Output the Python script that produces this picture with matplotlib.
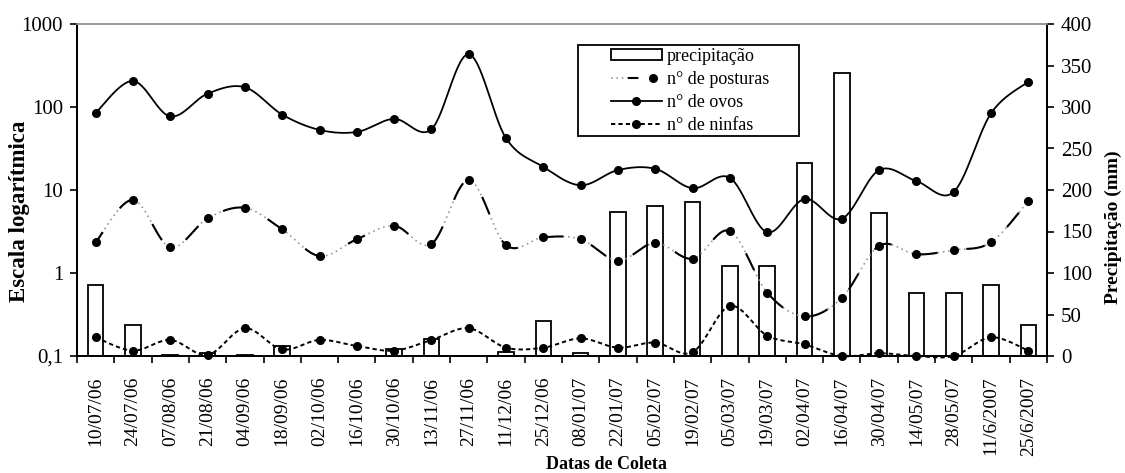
import numpy as np
import matplotlib
matplotlib.use("Agg")
import matplotlib.pyplot as plt
from matplotlib.lines import Line2D
from matplotlib.patches import Patch, Rectangle
from matplotlib.legend_handler import HandlerTuple

plt.rcParams['font.family'] = ['Liberation Serif', 'DejaVu Serif']

datas = ['10/07/06', '24/07/06', '07/08/06', '21/08/06', '04/09/06', '18/09/06',
         '02/10/06', '16/10/06', '30/10/06', '13/11/06', '27/11/06', '11/12/06',
         '25/12/06', '08/01/07', '22/01/07', '05/02/07', '19/02/07', '05/03/07',
         '19/03/07', '02/04/07', '16/04/07', '30/04/07', '14/05/07', '28/05/07',
         '11/6/2007', '25/6/2007']

precipitacao = [85, 37, 1, 4, 1, 12, 0, 0, 8, 20, 0, 4.4, 42.5, 3.2, 173, 181, 186,
                109, 108, 233, 341, 172, 75.5, 75.5, 85, 37]

ovos = [85, 206, 77, 145, 173, 81, 53, 50, 72, 54, 431, 42, 19, 11.4, 17.4, 18, 10.5,
        14, 3.1, 7.8, 4.5, 17.4, 12.8, 9.5, 84, 202]

posturas = [2.34, 7.6, 2.04, 4.56, 6.1, 3.36, 1.60, 2.55, 3.71, 2.24, 13.2, 2.16, 2.69,
            2.55, 1.41, 2.32, 1.49, 3.2, 0.58, 0.30, 0.50, 2.13, 1.68, 1.89, 2.34, 7.4]

ninfas = [0.168, 0.116, 0.156, 0.103, 0.216, 0.120, 0.156, 0.132, 0.116, 0.156, 0.216,
          0.126, 0.126, 0.163, 0.126, 0.145, 0.111, 0.40, 0.176, 0.138, 0.10, 0.108,
          0.10, 0.10, 0.168, 0.116]


def smooth_log(xs, ys, n=30):
    """Catmull-Rom curve through the points, in log10 space (Excel-like smoothing)."""
    xs = np.asarray(xs, float)
    ly = np.log10(np.asarray(ys, float))
    P = np.column_stack([xs, ly])
    out = []
    m = len(P)
    for i in range(m - 1):
        p0 = P[i - 1] if i > 0 else P[i]
        p1 = P[i]
        p2 = P[i + 1]
        p3 = P[i + 2] if i + 2 < m else P[i + 1]
        c1 = p1 + (p2 - p0) / 6.0
        c2 = p2 - (p3 - p1) / 6.0
        t = np.linspace(0, 1, n, endpoint=(i == m - 2))[:, None]
        b = ((1 - t) ** 3) * p1 + 3 * ((1 - t) ** 2) * t * c1 + 3 * (1 - t) * t ** 2 * c2 + t ** 3 * p2
        out.append(b)
    B = np.vstack(out)
    return B[:, 0], 10 ** B[:, 1]


W, H = 1125, 473
fig = plt.figure(figsize=(W / 100, H / 100), dpi=100)
ax = fig.add_axes([77 / W, 1 - 356 / H, 970 / W, 332 / H])
ax2 = ax.twinx()
x = np.arange(len(datas))

# precipitation bars (right scale), drawn under lines
ax.bar(x, precipitacao, width=0.42, color='white', edgecolor='black', linewidth=1.3, zorder=2)
ax.set_ylim(0, 400)
ax.set_xlim(-0.5, len(datas) - 0.5)
ax.set_yticks(np.arange(0, 401, 50))
ax.tick_params(axis='y', direction='out', length=5, width=1.2, labelsize=15, pad=5,
               left=False, right=True, labelleft=False, labelright=True)

# x ticks at category boundaries; labels at centers
ax.set_xticks(np.arange(-0.5, len(datas), 1.0))
ax.set_xticklabels([])
ax.tick_params(axis='x', which='major', direction='out', length=5, width=1.2)
ax.set_xticks(x, minor=True)
ax.set_xticklabels(datas, minor=True, rotation=90, fontsize=14)
ax.tick_params(axis='x', which='minor', length=0, pad=15)

# log scale lines on twin axis (drawn on top)
ax2.set_yscale('log')
ax2.set_ylim(0.1, 1000)
ax2.set_yticks([0.1, 1, 10, 100, 1000])
ax2.set_yticklabels(['0,1', '1', '10', '100', '1000'])
ax2.yaxis.set_minor_locator(matplotlib.ticker.NullLocator())
ax2.tick_params(axis='y', which='both', direction='out', length=5, width=1.2, labelsize=15, pad=5,
                left=True, right=False, labelleft=True, labelright=False)

for a in (ax, ax2):
    a.spines['top'].set_color('0.6')
    a.spines['top'].set_linewidth(1.2)
    for s in ('left', 'right', 'bottom'):
        a.spines[s].set_linewidth(1.3)

# axis titles
fig.text(20 / W, 1 - 211 / H, 'Escala logarítmica', rotation=90, ha='center', va='center',
         fontsize=16.5, fontweight='bold')
fig.text(1113 / W, 1 - 227 / H, 'Precipitação (mm)', rotation=90, ha='center', va='center',
         fontsize=14, fontweight='bold')
fig.text(606 / W, 1 - 464 / H, 'Datas de Coleta', ha='center', va='center',
         fontsize=13, fontweight='bold')

# ovos - solid
sx, sy = smooth_log(x, ovos)
ax2.plot(sx, sy, color='black', lw=1.3, zorder=3)
ax2.plot(x, ovos, 'o', color='black', ms=5.5, zorder=5, clip_on=False)

# posturas - long dash + gray dots
sx, sy = smooth_log(x, posturas)
ax2.plot(sx, sy, color='0.6', lw=1.2, linestyle=(0, (1, 2.2)), zorder=3)
ax2.plot(sx, sy, color='black', lw=1.5, linestyle=(3, (9, 14)), zorder=3)
ax2.plot(x, posturas, 'o', color='black', ms=5.5, zorder=5, clip_on=False)

# ninfas - short dashes
sx, sy = smooth_log(x, ninfas)
ax2.plot(sx, sy, color='black', lw=1.4, linestyle=(0, (2.2, 1.6)), zorder=3, clip_on=False)
ax2.plot(x, ninfas, 'o', color='black', ms=5.5, zorder=5, clip_on=False)

# legend box (rectangle in figure coords to match the wide side padding)
ax2.add_patch(Rectangle((578 / W, 1 - 136 / H), 221 / W, 91 / H, transform=fig.transFigure,
                        facecolor='white', edgecolor='black', linewidth=1.3, zorder=9,
                        clip_on=False))
h_prec = Patch(facecolor='white', edgecolor='black', linewidth=1.3)
h_post = (Line2D([], [], color='0.6', lw=1.2, linestyle=(0, (1, 2.2))),
          Line2D([], [], color='black', lw=1.5, linestyle=(0, (5, 12))),
          Line2D([], [], color='black', marker='o', ms=5.5, linestyle='none'))
h_ovos = Line2D([], [], color='black', lw=1.3, marker='o', ms=5.5)
h_ninf = Line2D([], [], color='black', lw=1.4, linestyle=(0, (2.2, 1.6)), marker='o', ms=5.5)
leg = ax2.legend([h_prec, h_post, h_ovos, h_ninf],
                 ['precipitação', 'n° de posturas', 'n° de ovos', 'n° de ninfas'],
                 handler_map={tuple: HandlerTuple(ndivide=None, pad=0)},
                 loc='upper left', bbox_to_anchor=(611 / W, 1 - 48 / H),
                 bbox_transform=fig.transFigure, borderaxespad=0, borderpad=0,
                 fontsize=13, frameon=False,
                 handlelength=2.8, handleheight=0.5, handletextpad=0.3, labelspacing=0.33,
                 numpoints=1)
leg.set_zorder(10)

fig.savefig('out.png', dpi=100)
